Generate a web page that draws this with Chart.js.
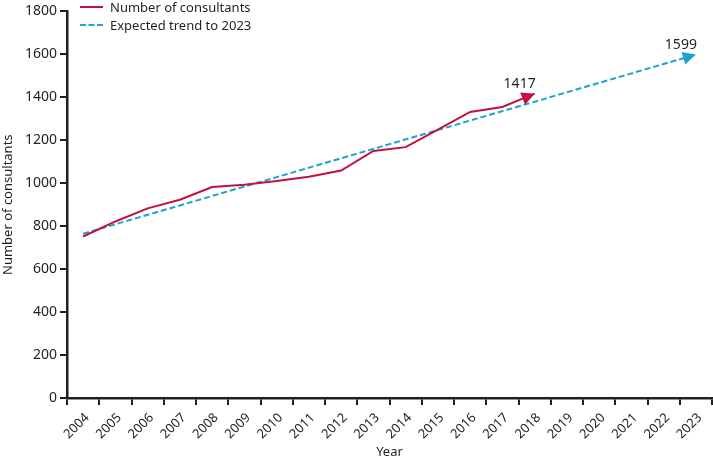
<html>
<head>
<meta charset="utf-8" />
<title>Number of consultants</title>
<script src="https://cdn.jsdelivr.net/npm/chart.js"></script>
<style>
  body { margin: 0; background: #fff; }
  #wrap { position: relative; width: 713px; height: 460px; }
  #legend { position: absolute; left: 80px; top: 0px; font-family: "Noto Sans", sans-serif; font-size: 13px; color: #231f20; }
  .item { position: relative; height: 18px; line-height: 14px; padding-left: 30px; white-space: nowrap; }
  .sw { position: absolute; left: 0; top: 6px; width: 23px; height: 0; }
</style>
</head>
<body>
<div id="wrap">
  <canvas id="myChart" width="713" height="460"></canvas>
  <div id="legend">
    <div class="item"><span class="sw" style="border-top: 2px solid #c4103f;"></span>Number of consultants</div>
    <div class="item"><span class="sw" style="border-top: 2px dashed #1ea3cc;"></span>Expected trend to 2023</div>
  </div>
</div>
<script>
// years on the x axis
const years = ['2004','2005','2006','2007','2008','2009','2010','2011','2012','2013',
               '2014','2015','2016','2017','2018','2019','2020','2021','2022','2023'];
// consultants counted, 2004-2018
const consultants = [752, 822, 883, 923, 982, 993, 1010, 1030, 1059, 1150, 1168, 1250, 1332, 1355, 1417];
// expected trend: start and end only, joined by a straight line
const trend = [765, null, null, null, null, null, null, null, null, null,
               null, null, null, null, null, null, null, null, null, 1599];
const yTicks = [0, 200, 400, 600, 800, 1000, 1200, 1400, 1600, 1800];

const red = '#c4103f';
const blue = '#1ea3cc';
const ink = '#231f20';
const font = { family: '"Noto Sans", sans-serif', size: 13 };
const tickFont = { family: '"Noto Sans", sans-serif', size: 14 };

// arrow head + value label at the end of each line
const arrowEnds = {
  id: 'arrowEnds',
  afterDatasetsDraw(chart) {
    const ctx = chart.ctx;
    chart.data.datasets.forEach((ds, i) => {
      const meta = chart.getDatasetMeta(i);
      const idx = [];
      ds.data.forEach((v, j) => { if (v != null) idx.push(j); });
      if (idx.length < 2) return;
      const last = idx[idx.length - 1];
      const tip = meta.data[last], prev = meta.data[idx[idx.length - 2]];
      const a = Math.atan2(tip.y - prev.y, tip.x - prev.x);
      const len = 13, half = 6.5;
      ctx.save();
      ctx.fillStyle = ds.borderColor;
      ctx.beginPath();
      ctx.moveTo(tip.x, tip.y);
      ctx.lineTo(tip.x - len * Math.cos(a) + half * Math.sin(a), tip.y - len * Math.sin(a) - half * Math.cos(a));
      ctx.lineTo(tip.x - len * Math.cos(a) - half * Math.sin(a), tip.y - len * Math.sin(a) + half * Math.cos(a));
      ctx.closePath();
      ctx.fill();
      ctx.fillStyle = ink;
      ctx.font = '14px "Noto Sans", sans-serif';
      ctx.textAlign = 'center';
      ctx.textBaseline = 'alphabetic';
      ctx.fillText(String(ds.data[last]), tip.x - 15, tip.y - 6);
      ctx.restore();
    });
  }
};

new Chart(document.getElementById('myChart').getContext('2d'), {
  type: 'line',
  data: {
    labels: years,
    datasets: [{
      label: 'Number of consultants',
      data: consultants,
      borderColor: red,
      backgroundColor: red,
      borderWidth: 2,
      pointRadius: 0,
      tension: 0
    }, {
      label: 'Expected trend to 2023',
      data: trend,
      spanGaps: true,
      borderColor: blue,
      backgroundColor: blue,
      borderWidth: 2,
      borderDash: [6, 3],
      pointRadius: 0,
      tension: 0
    }]
  },
  options: {
    responsive: false,
    animation: false,
    layout: { padding: { top: 0, right: 1 } },
    plugins: {
      legend: { display: false },
      tooltip: { enabled: false }
    },
    scales: {
      x: {
        offset: true,
        grid: { offset: true, drawOnChartArea: false, drawTicks: true, tickLength: 7, color: ink, lineWidth: 2 },
        border: { color: ink, width: 2.5 },
        ticks: { color: ink, font: font, minRotation: 45, maxRotation: 45, autoSkip: false, padding: 5, labelOffset: 4 },
        title: { display: true, text: 'Year', color: ink, font: font, padding: { top: 0, bottom: 0 } },
        afterFit(s) { s.height = 62; }
      },
      y: {
        min: 0,
        max: 1800,
        afterBuildTicks(s) { s.ticks = yTicks.map(v => ({ value: v })); },
        grid: { drawOnChartArea: false, drawTicks: true, tickLength: 7, color: ink, lineWidth: 2 },
        border: { color: ink, width: 2.5 },
        ticks: { color: ink, font: tickFont, padding: 3, callback: v => String(v) },
        title: { display: true, text: 'Number of consultants', color: ink, font: font, padding: { top: 0, bottom: 3 } },
        afterFit(s) { s.width = 67; }
      }
    }
  },
  plugins: [arrowEnds]
});
</script>
</body>
</html>
